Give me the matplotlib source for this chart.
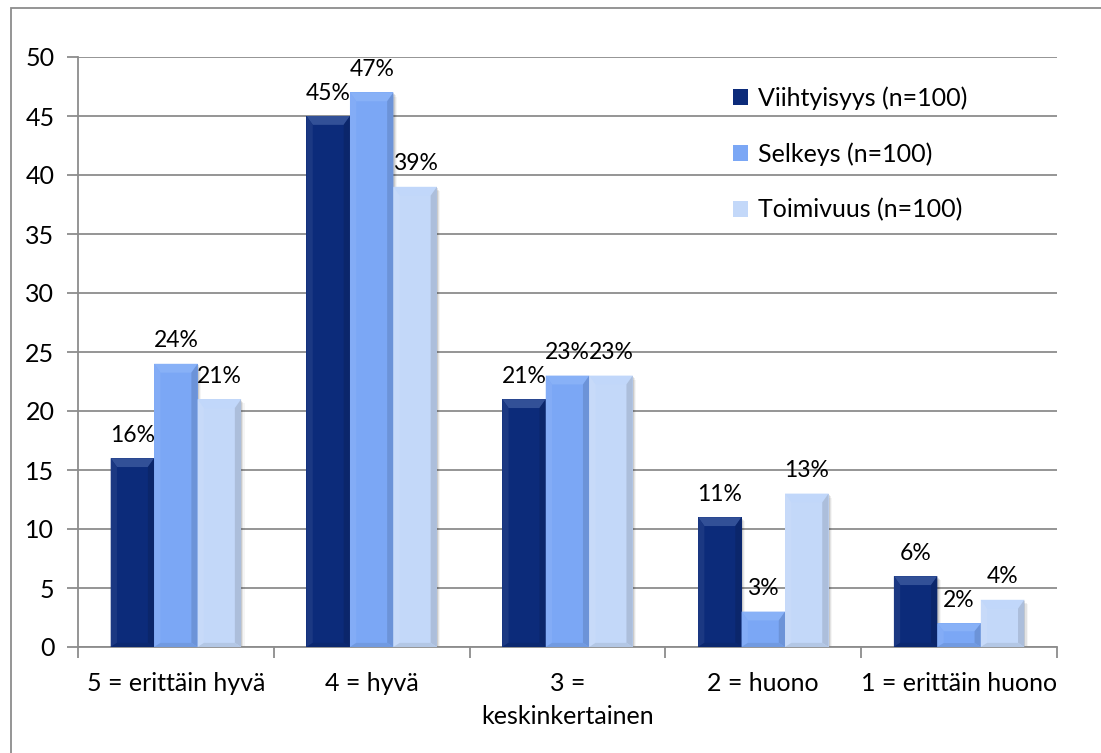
import matplotlib
matplotlib.use("Agg")
import matplotlib.pyplot as plt
from matplotlib.patches import Polygon, Rectangle
from matplotlib.colors import to_rgb
import numpy as np

categories = ["5 = erittäin hyvä", "4 = hyvä", "3 =\nkeskinkertainen", "2 = huono", "1 = erittäin huono"]
series_names = ["Viihtyisyys (n=100)", "Selkeys (n=100)", "Toimivuus (n=100)"]
viihtyisyys = [16, 45, 21, 11, 6]
selkeys = [24, 47, 23, 3, 2]
toimivuus = [21, 39, 23, 13, 4]
yticks = [0, 5, 10, 15, 20, 25, 30, 35, 40, 45, 50]

colors = ["#0C2B7A", "#7BA7F5", "#C3D8F9"]
series = [viihtyisyys, selkeys, toimivuus]

plt.rcParams["font.family"] = ["Lato", "DejaVu Sans"]
FS = 18
LABEL_FS = 16.5

fig = plt.figure(figsize=(11.01, 7.53), dpi=100)
fig.patch.set_facecolor("white")
# outer chart frame
fig.add_artist(Rectangle((11 / 1101, -0.01), 1.02, 1 - 8 / 753 + 0.01,
                         transform=fig.transFigure, fill=False,
                         edgecolor="#8c8c8c", linewidth=1.3))

ax = fig.add_axes([78 / 1101, 1 - 647 / 753, (1057 - 78) / 1101, (647 - 57) / 753])
ax.set_xlim(-0.5, len(categories) - 0.5)
ax.set_ylim(0, 50)
ax.set_yticks(yticks)
ax.yaxis.grid(True, color="#8c8c8c", linewidth=1.3)
ax.set_axisbelow(True)
for s in ["top", "right"]:
    ax.spines[s].set_visible(False)
for s in ["left", "bottom"]:
    ax.spines[s].set_color("#8c8c8c")
    ax.spines[s].set_linewidth(1.3)

x = np.arange(len(categories))
ax.set_xticks(x)
ax.set_xticklabels(categories, fontsize=FS, linespacing=1.55)
ax.set_xticks(np.arange(len(categories) + 1) - 0.5, minor=True)
ax.tick_params(axis="x", which="major", length=0, pad=18)
ax.tick_params(axis="x", which="minor", length=8, color="#8c8c8c", width=1.3)
ax.tick_params(axis="y", length=8, color="#8c8c8c", width=1.3, labelsize=FS, pad=9)

w = 0.222


def mix(c, t, amt):
    c = np.array(to_rgb(c)); t = np.array(to_rgb(t))
    return tuple(c + (t - c) * amt)


def bevel(rect, color):
    x0, y0 = rect.get_x(), rect.get_y()
    x1, y1 = x0 + rect.get_width(), y0 + rect.get_height()
    bx = 0.032
    by = min(0.75, (y1 - y0) / 3)
    byb = min(0.35, (y1 - y0) / 6)
    # soft drop shadow
    for i, a in enumerate([0.10, 0.07, 0.04]):
        d = 0.006 * (i + 1)
        ax.add_patch(Rectangle((x0 + d, y0 - 0.12 * (i + 1)), x1 - x0, y1 - y0,
                               facecolor="black", alpha=a, linewidth=0, zorder=2))
    top = mix(color, "#B8D4FF", 0.22)
    ax.add_patch(Polygon([(x0, y1), (x1, y1), (x1 - bx, y1 - by), (x0 + bx, y1 - by)],
                         facecolor=top, linewidth=0, zorder=4))
    ax.add_patch(Polygon([(x0, y0), (x0 + bx, y0 + byb), (x0 + bx, y1 - by), (x0, y1)],
                         facecolor=mix(color, "white", 0.06), linewidth=0, zorder=4))
    ax.add_patch(Polygon([(x1, y0), (x1 - bx, y0 + byb), (x1 - bx, y1 - by), (x1, y1)],
                         facecolor=mix(color, "black", 0.12), linewidth=0, zorder=4))
    ax.add_patch(Polygon([(x0, y0), (x1, y0), (x1 - bx, y0 + byb), (x0 + bx, y0 + byb)],
                         facecolor=mix(color, "black", 0.08), linewidth=0, zorder=4))


handles = []
for i, (vals, col, name) in enumerate(zip(series, colors, series_names)):
    bars = ax.bar(x + (i - 1) * w, vals, width=w, color=col, label=name,
                  zorder=3, linewidth=0)
    handles.append(bars)
    for r, v in zip(bars, vals):
        bevel(r, col)
        ax.annotate(f"{v}%", (r.get_x() + r.get_width() / 2, v),
                    xytext=(0, 9), textcoords="offset points",
                    ha="center", va="bottom", fontsize=LABEL_FS, zorder=6)

leg = ax.legend(handles=handles, loc="upper left",
                bbox_to_anchor=((723 - 78) / (1057 - 78), 1 - (76 - 57) / 590),
                frameon=False, fontsize=FS, handlelength=0.6, handleheight=0.6,
                handletextpad=0.4, labelspacing=1.3, borderaxespad=0)

fig.savefig("out.png", dpi=100)
